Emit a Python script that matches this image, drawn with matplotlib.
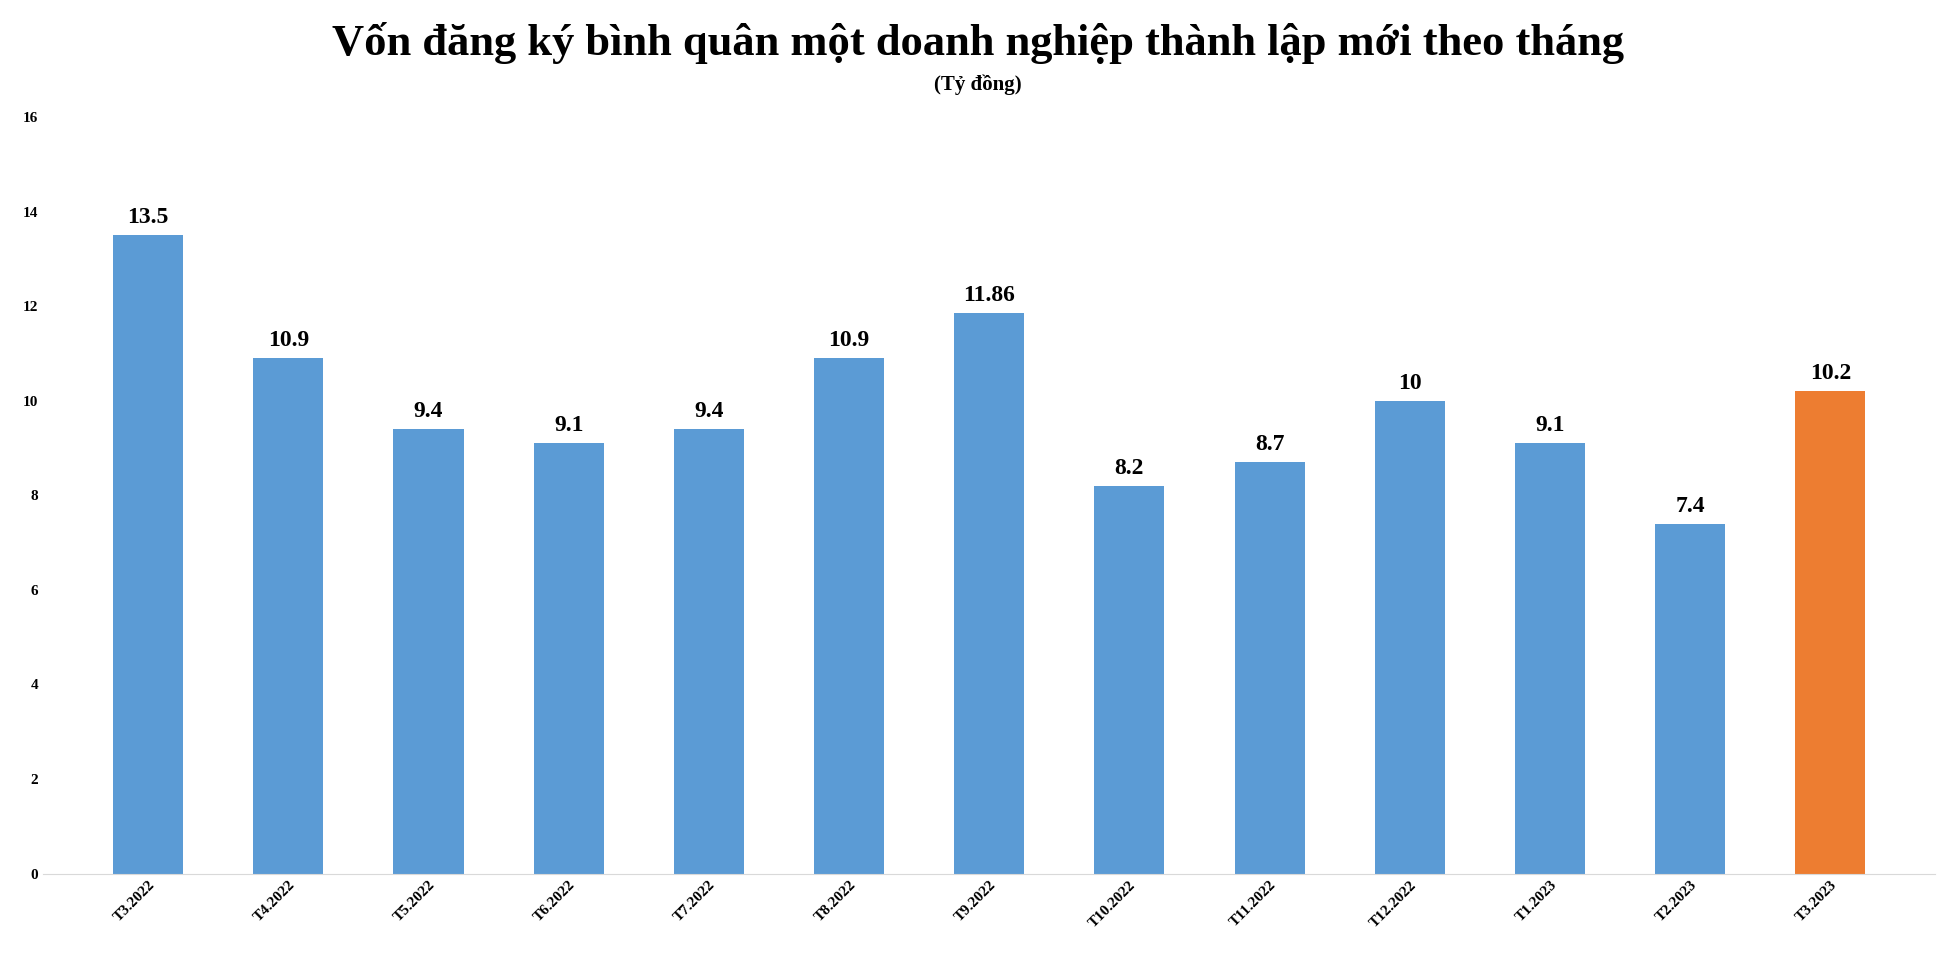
import matplotlib
matplotlib.use("Agg")
import matplotlib.pyplot as plt

categories = ["T3.2022","T4.2022","T5.2022","T6.2022","T7.2022","T8.2022","T9.2022",
              "T10.2022","T11.2022","T12.2022","T1.2023","T2.2023","T3.2023"]
values = [13.5,10.9,9.4,9.1,9.4,10.9,11.86,8.2,8.7,10,9.1,7.4,10.2]
labels = ["13.5","10.9","9.4","9.1","9.4","10.9","11.86","8.2","8.7","10","9.1","7.4","10.2"]
colors = ["#5B9BD5"]*12 + ["#ED7D31"]

plt.rcParams['font.family'] = ['Liberation Serif', 'DejaVu Serif']
fig = plt.figure(figsize=(19.55, 9.61), dpi=100)
ax = fig.add_axes([0.022, 0.091, 0.968, 0.787])
x = range(len(categories))
ax.bar(x, values, width=0.5, color=colors)
for i, (v, l) in enumerate(zip(values, labels)):
    ax.text(i, v + 0.15, l, ha='center', va='bottom', fontsize=17, fontweight='bold')
ax.set_ylim(0, 16)
ax.set_xlim(-0.75, len(categories) - 0.25)
ax.set_yticks(range(0, 17, 2))
ax.set_xticks(list(x))
ax.set_xticklabels(categories, rotation=45, ha='right', rotation_mode='anchor', fontsize=11, fontweight='bold')
ax.tick_params(axis='y', labelsize=11, length=0)
for lab in ax.get_yticklabels():
    lab.set_fontweight('bold')
ax.tick_params(axis='x', length=0)
for s in ['top', 'right', 'left']:
    ax.spines[s].set_visible(False)
ax.spines['bottom'].set_color('#D9D9D9')
fig.text(0.5, 0.955, "Vốn đăng ký bình quân một doanh nghiệp thành lập mới theo tháng",
         ha='center', va='center', fontsize=32, fontweight='bold')
fig.text(0.5, 0.912, "(Tỷ đồng)", ha='center', va='center', fontsize=15, fontweight='bold')
fig.savefig("out.png", dpi=100)
